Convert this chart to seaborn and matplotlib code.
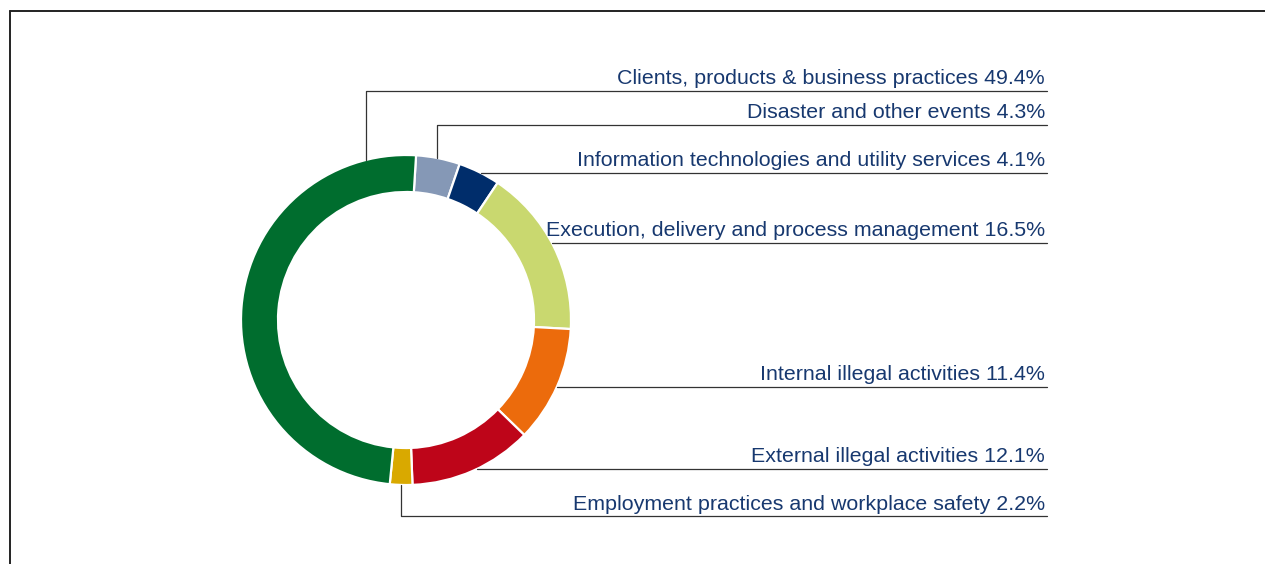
import numpy as np
import matplotlib
matplotlib.use("Agg")
import matplotlib.pyplot as plt
import seaborn as sns

# data, clockwise from the top
categories = [
    "Disaster and other events",
    "Information technologies and utility services",
    "Execution, delivery and process management",
    "Internal illegal activities",
    "External illegal activities",
    "Employment practices and workplace safety",
    "Clients, products & business practices",
]
shares = [4.3, 4.1, 16.5, 11.4, 12.1, 2.2, 49.4]
colors = ["#8598B6", "#002D6B", "#C9D86F", "#EC6B0C", "#BE0519", "#D9A900", "#006D2E"]

# label layout (pixels, y from top): line height and how the leader leaves the ring
label_y = [125, 173, 243, 387, 469, 516, 91]
leader_x = [437, None, None, None, None, 401, 366]  # vertical stub at this x, else horizontal

W, H = 1265, 564
cx, cy, R, ring = 406, 320, 165, 37
line_end = 1047
text_col = "#17386F"

sns.set_theme(style="white")
plt.rcParams["font.family"] = ["Liberation Sans", "DejaVu Sans"]

fig = plt.figure(figsize=(W / 100, H / 100), dpi=100)
ax = fig.add_axes([0, 0, 1, 1])
ax.set_xlim(0, W)
ax.set_ylim(0, H)
ax.set_aspect("equal")
ax.axis("off")

def Y(y):
    return H - y

ax.pie(shares, colors=colors, startangle=86.5, counterclock=False,
       center=(cx, Y(cy)), radius=R,
       wedgeprops=dict(width=ring, edgecolor="white", linewidth=1.6))
ax.set_xlim(0, W)
ax.set_ylim(0, H)

lc = "#333333"
for name, val, ly, lx in zip(categories, shares, label_y, leader_x):
    if lx is None:
        dy = ly - cy
        x0 = cx + np.sqrt(R**2 - dy**2)
        ax.plot([x0, line_end], [Y(ly), Y(ly)], color=lc, lw=0.9)
    else:
        dx = lx - cx
        y0 = cy - np.sqrt(R**2 - dx**2) if ly < cy else cy + np.sqrt(R**2 - dx**2)
        ax.plot([lx, lx, line_end], [Y(y0), Y(ly), Y(ly)], color=lc, lw=0.9)
    ax.text(line_end - 2, Y(ly - 6.5), f"{name} {val}%", ha="right", va="baseline",
            fontsize=15.4, color=text_col)

# frame
ax.plot([10, W], [Y(11), Y(11)], color="#222222", lw=1.4, clip_on=False)
ax.plot([10, 10], [Y(11), 0], color="#222222", lw=1.4, clip_on=False)

fig.savefig("out.png", dpi=100)
